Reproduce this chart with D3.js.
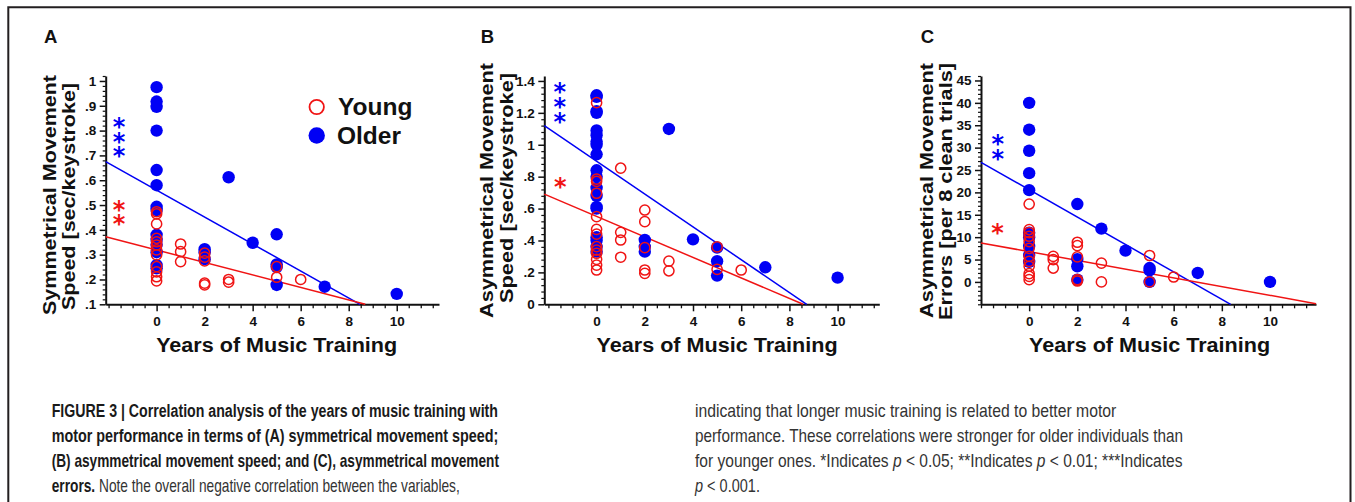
<!DOCTYPE html>
<html><head><meta charset="utf-8">
<script src="https://cdn.jsdelivr.net/npm/d3@7"></script>
<style>body{margin:0;background:#fff}svg{display:block}</style>
</head><body>
<svg id="c" width="1355" height="502"></svg>
<script>
// ---------- DATA ----------
const xTickValues = [0, 2, 4, 6, 8, 10];
const xTickLabels = ["0", "2", "4", "6", "8", "10"];

const yTickValuesA = [1, 0.9, 0.8, 0.7, 0.6, 0.5, 0.4, 0.3, 0.2, 0.1];
const yTickLabelsA = ["1", ".9", ".8", ".7", ".6", ".5", ".4", ".3", ".2", ".1"];
const yTickValuesB = [1.4, 1.2, 1, 0.8, 0.6, 0.4, 0.2, 0];
const yTickLabelsB = ["1.4", "1.2", "1", ".8", ".6", ".4", ".2", "0"];
const yTickValuesC = [45, 40, 35, 30, 25, 20, 15, 10, 5, 0];
const yTickLabelsC = ["45", "40", "35", "30", "25", "20", "15", "10", "5", "0"];

// Panel A: symmetrical movement speed [sec/keystroke]
const olderA = [[0,0.975],[0,0.917],[0,0.896],[0,0.80],[0,0.641],[0,0.58],[0,0.493],[0,0.48],[0,0.38],[0,0.36],[0,0.34],[0,0.31],[0,0.258],[0,0.245],
  [2,0.322],[2,0.31],[2,0.282],[3,0.612],[4,0.348],[5,0.382],[5,0.261],[5,0.25],[5,0.178],[7,0.171],[10,0.142]];
const youngA = [[0,0.473],[0,0.464],[0,0.424],[0,0.366],[0,0.352],[0,0.339],[0,0.319],[0,0.299],[0,0.252],[0,0.231],[0,0.211],[0,0.194],
  [1,0.343],[1,0.312],[1,0.272],[2,0.306],[2,0.29],[2,0.275],[2,0.185],[2,0.178],[3,0.20],[3,0.189],[5,0.252],[5,0.209],[6,0.20]];

// Panel B: asymmetrical movement speed [sec/keystroke]
const olderB = [[0,1.31],[0,1.30],[0,1.21],[0,1.20],[0,1.09],[0,1.06],[0,1.02],[0,1.00],[0,0.94],[0,0.84],[0,0.80],[0,0.73],[0,0.68],[0,0.61],[0,0.60],[0,0.42],[0,0.40],[0,0.36],[0,0.33],
  [2,0.403],[2,0.36],[2,0.33],[3,1.099],[4,0.407],[5,0.355],[5,0.27],[5,0.18],[7,0.232],[10,0.167]];
const youngB = [[0,1.264],[0,0.784],[0,0.77],[0,0.696],[0,0.549],[0,0.47],[0,0.44],[0,0.361],[0,0.34],[0,0.32],[0,0.282],[0,0.246],[0,0.215],
  [1,0.853],[1,0.451],[1,0.403],[1,0.295],[2,0.591],[2,0.518],[2,0.355],[2,0.215],[2,0.194],[3,0.271],[3,0.21],[5,0.36],[5,0.219],[6,0.215]];

// Panel C: asymmetrical movement errors [per 8 clean trials]
const olderC = [[0,40],[0,34],[0,29.3],[0,24.3],[0,20.5],[0,11],[0,10],[0,8],[0,6],[0,4.5],
  [2,17.4],[2,5.1],[2,3.5],[2,0.5],[3,11.9],[4,7.0],[5,3.1],[5,2.6],[5,0],[7,2.0],[10,0]];
const youngC = [[0,17.4],[0,11.7],[0,11],[0,10.2],[0,9],[0,7.5],[0,5.7],[0,4.6],[0,3.5],[0,1.85],[0,1.25],[0,0.5],
  [1,5.7],[1,5.0],[1,3.1],[2,8.86],[2,8.1],[2,5.6],[2,0.5],[2,0.2],[3,4.2],[3,0],[5,5.9],[5,0],[6,1.1]];

// regression lines: [intercept, slope]
const fitOlderA = [0.560, -0.0543], fitYoungA = [0.319, -0.0252];
const fitOlderB = [0.897, -0.1029], fitYoungB = [0.551, -0.0643];
const fitOlderC = [20.6, -3.06],   fitYoungC = [6.76, -0.975];

// significance stars: x position and y of each star
const starsOlderA = { x: -1.56, y: [0.815, 0.755, 0.699] }, starsYoungA = { x: -1.56, y: [0.48, 0.424] };
const starsOlderB = { x: -1.52, y: [1.333, 1.235, 1.145] }, starsYoungB = { x: -1.5, y: [0.737] };
const starsOlderC = { x: -1.29, y: [30.7, 27.5] },          starsYoungC = { x: -1.3, y: [10.95] };

const legendLabels = ["Young", "Older"];

// ---------- DRAWING ----------
const BLUE = "#0000f5", RED = "#f01414", INK = "#111";
const svg = d3.select("#c");

svg.append("path").attr("d", "M8.3,502 V7.2 H1350.5 V502")
  .attr("fill", "none").attr("stroke", "#231f20").attr("stroke-width", 2);

const panels = [
  { letter: "A", lx: 44, xDomain: [-2.12, 11.76], xr: [105.7, 439], yDomain: [0.1, 1.02], minorStep: 0.02,
    yv: yTickValuesA, yl: yTickLabelsA, older: olderA, young: youngA, fo: fitOlderA, fy: fitYoungA,
    so: starsOlderA, sy: starsYoungA,
    ylab: [["Symmetrical Movement", 56, 195, 240], ["Speed [sec/keystroke]", 75, 196.5, 227]], legend: true },
  { letter: "B", lx: 480.7, xDomain: [-2.17, 11.73], xr: [544.3, 879.3], yDomain: [0, 1.431], minorStep: 0.04,
    yv: yTickValuesB, yl: yTickLabelsB, older: olderB, young: youngB, fo: fitOlderB, fy: fitYoungB,
    so: starsOlderB, sy: starsYoungB,
    ylab: [["Asymmetrical Movement", 493.3, 190.5, 255], ["Speed [sec/keystroke]", 512.7, 188, 230]] },
  { letter: "C", lx: 920.7, xDomain: [-2.0, 11.91], xr: [981, 1316], yDomain: [-5, 46], minorStep: 1,
    yv: yTickValuesC, yl: yTickLabelsC, older: olderC, young: youngC, fo: fitOlderC, fy: fitYoungC,
    so: starsOlderC, sy: starsYoungC,
    ylab: [["Asymmetrical Movement", 933, 190.5, 255], ["Errors [per 8 clean trials]", 951.7, 191.5, 257]] }
];

const FONT = "'Liberation Sans', Arial, Helvetica, sans-serif";

const probe = svg.append("text").text("*").attr("font-family", "'DejaVu Sans', sans-serif")
  .attr("font-weight", "bold").attr("font-size", 24).attr("x", 0).attr("y", 0);
const pb = probe.node().getBBox();
const starDX = pb.x + pb.width / 2, starDY = pb.y + pb.height / 2;
probe.remove();

function stars(g, x, y, s, color) {
  const t = g.append("text").attr("font-family", "'DejaVu Sans', sans-serif")
    .attr("font-weight", "bold").attr("font-size", 24).attr("fill", color);
  s.y.forEach(v => {
    t.append("tspan").text("*").attr("x", x(s.x) - starDX).attr("y", y(v) - starDY);
  });
}

panels.forEach(p => {
  const x = d3.scaleLinear().domain(p.xDomain).range(p.xr);
  const y = d3.scaleLinear().domain(p.yDomain).range([304.3, 76]);
  const g = svg.append("g");
  const y0 = y(p.yDomain[0]);

  g.append("text").text(p.letter).attr("x", p.lx).attr("y", 42.7)
    .attr("font-family", FONT).attr("font-weight", "bold").attr("font-size", 18.5).attr("fill", INK);

  const xMinor = d3.range(Math.ceil(p.xDomain[0] * 2) / 2, p.xDomain[1], 0.5).filter(v => !xTickValues.includes(v));
  const gxm = g.append("g").attr("transform", `translate(0,${y0})`)
    .call(d3.axisBottom(x).tickValues(xMinor).tickSize(4).tickFormat(""));
  gxm.select(".domain").remove();
  gxm.selectAll("line").attr("stroke", INK).attr("stroke-width", 1.3);
  const gx = g.append("g").attr("transform", `translate(0,${y0})`)
    .call(d3.axisBottom(x).tickValues(xTickValues).tickSize(7).tickSizeOuter(0)
      .tickFormat((d, i) => xTickLabels[i]));
  gx.select(".domain").attr("stroke", INK).attr("stroke-width", 2);
  gx.selectAll("line").attr("stroke", INK).attr("stroke-width", 1.5);
  gx.selectAll("text").attr("font-family", FONT).attr("font-weight", "bold").attr("font-size", 13.5)
    .attr("fill", INK).attr("y", 12).attr("dy", "0.71em");

  const n = Math.round((p.yDomain[1] - p.yDomain[0]) / p.minorStep);
  const yMinor = d3.range(0, n + 1).map(i => +(p.yDomain[0] + i * p.minorStep).toFixed(4))
    .filter(v => v <= p.yDomain[1] && !p.yv.some(t => Math.abs(t - v) < 1e-6));
  const gym = g.append("g").attr("transform", `translate(${p.xr[0]},0)`)
    .call(d3.axisLeft(y).tickValues(yMinor).tickSize(3).tickFormat(""));
  gym.select(".domain").remove();
  gym.selectAll("line").attr("stroke", INK).attr("stroke-width", 1.2);
  const gy = g.append("g").attr("transform", `translate(${p.xr[0]},0)`)
    .call(d3.axisLeft(y).tickValues(p.yv).tickSize(6).tickSizeOuter(0).tickFormat((d, i) => p.yl[i]));
  gy.select(".domain").attr("stroke", INK).attr("stroke-width", 2);
  gy.selectAll("line").attr("stroke", INK).attr("stroke-width", 1.5);
  gy.selectAll("text").attr("font-family", FONT).attr("font-weight", "bold").attr("font-size", 13.5)
    .attr("fill", INK).attr("x", -9.5);

  g.append("text").text("Years of Music Training").attr("x", x(5)).attr("y", 352)
    .attr("text-anchor", "middle").attr("font-family", FONT).attr("font-weight", "bold")
    .attr("font-size", 19.5).attr("fill", INK).attr("textLength", 241).attr("lengthAdjust", "spacingAndGlyphs");
  p.ylab.forEach(([txt, xb, yc, len]) => {
    g.append("text").text(txt).attr("transform", `translate(${xb},${yc}) rotate(-90)`)
      .attr("text-anchor", "middle").attr("font-family", FONT).attr("font-weight", "bold")
      .attr("font-size", 18.6).attr("fill", INK).attr("textLength", len).attr("lengthAdjust", "spacingAndGlyphs");
  });

  const drawFit = (f, color) => {
    const xa = p.xDomain[0];
    let xb = p.xDomain[1];
    const xHit = (p.yDomain[0] - f[0]) / f[1];
    if (xHit < xb) xb = xHit;
    g.append("line").attr("x1", x(xa)).attr("y1", y(f[0] + f[1] * xa))
      .attr("x2", x(xb)).attr("y2", y(f[0] + f[1] * xb))
      .attr("stroke", color).attr("stroke-width", 1.5);
  };
  drawFit(p.fo, BLUE);
  drawFit(p.fy, RED);

  g.append("g").selectAll("circle").data(p.older).join("circle")
    .attr("cx", d => x(d[0])).attr("cy", d => y(d[1])).attr("r", 6.2).attr("fill", BLUE);
  g.append("g").selectAll("circle").data(p.young).join("circle")
    .attr("cx", d => x(d[0])).attr("cy", d => y(d[1])).attr("r", 5.1)
    .attr("fill", "none").attr("stroke", RED).attr("stroke-width", 1.5);

  stars(g, x, y, p.so, BLUE);
  stars(g, x, y, p.sy, RED);

  if (p.legend) {
    const lg = g.append("g");
    lg.append("circle").attr("cx", 316.7).attr("cy", 107).attr("r", 7.2)
      .attr("fill", "none").attr("stroke", RED).attr("stroke-width", 1.8);
    lg.append("circle").attr("cx", 316.7).attr("cy", 135.5).attr("r", 8.2).attr("fill", BLUE);
    lg.append("text").text(legendLabels[0]).attr("x", 338).attr("y", 114.5)
      .attr("font-family", FONT).attr("font-weight", "bold").attr("font-size", 24.5).attr("fill", INK);
    lg.append("text").text(legendLabels[1]).attr("x", 337).attr("y", 143.5)
      .attr("font-family", FONT).attr("font-weight", "bold").attr("font-size", 24.5).attr("fill", INK);
  }
});

// ---------- CAPTION ----------
const CFONT = "'Liberation Sans Narrow', 'Arial Narrow', 'Liberation Sans', Arial, sans-serif";
const CSIZE = 18;
// one text element per line; styled runs as tspans; line scaled horizontally to the target width
function capLine(x0, yb, segs, totalLen) {
  const g = svg.append("g");
  const t = g.append("text").attr("x", 0).attr("y", 0)
    .attr("font-family", CFONT).attr("font-size", CSIZE).attr("fill", "#333");
  segs.forEach(([txt, bold, italic], i) => {
    t.append("tspan").text((i > 0 ? " " : "") + txt)
      .attr("font-weight", bold ? "bold" : "normal").attr("font-style", italic ? "italic" : "normal")
      .attr("fill", bold ? "#1a1a1a" : "#333");
  });
  const w = t.node().getComputedTextLength();
  g.attr("transform", `translate(${x0},${yb}) scale(${totalLen / w},1)`);
}
capLine(51.7, 416.5, [["FIGURE 3 | Correlation analysis of the years of music training with", true]], 446.6);
capLine(51.7, 441.5, [["motor performance in terms of (A) symmetrical movement speed;", true]], 447.3);
capLine(51.7, 466.5, [["(B) asymmetrical movement speed; and (C), asymmetrical movement", true]], 447.3);
capLine(51.7, 491.5, [["errors.", true], ["Note the overall negative correlation between the variables,", false]], 408.3);

capLine(695, 416.5, [["indicating that longer music training is related to better motor", false]], 421.7);
capLine(695, 441.5, [["performance. These correlations were stronger for older individuals than", false]], 488.3);
capLine(695, 466.5, [["for younger ones. *Indicates", false], ["p", false, true], ["< 0.05; **Indicates", false],
  ["p", false, true], ["< 0.01; ***Indicates", false]], 487.7);
capLine(695, 491.5, [["p", false, true], ["< 0.001.", false]], 65);
</script>
</body></html>
